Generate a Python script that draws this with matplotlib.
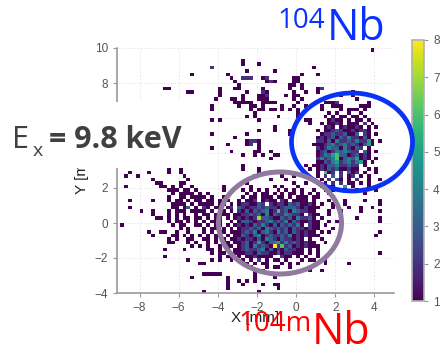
import numpy as np
import matplotlib
matplotlib.use('Agg')
import matplotlib.pyplot as plt
from matplotlib.patches import Rectangle, Ellipse

# 2D hit map, 0.2 mm bins, rows go from y=10 (top) down to y=-4, columns from x=-9 to x=5
X_START, Y_START, BIN = -9.0, 10.0, 0.2
count_rows = [
    ".......... .......... .......... .......... .......... .......... ....1.....",
    ".......... .......... .......... .......... .......... .......... ..........",
    ".......... .......... .......... .......... .......... .......... ..........",
    ".......... .......... .......... .1........ .......... .......... ..........",
    ".......... .......... .......... .1...1.... .......... .......... ..........",
    ".......... .......... ...2...... .......... .........1 .......... ..........",
    ".......... .......... .......... ..1......1 .......... .......... ..........",
    ".......... ........1. .......1.. .......... ......1... 1......... ..........",
    ".......... .......... ........1. .222..12.. ....11.... .......... ..........",
    ".......... .......... .........1 .......121 ....11.... .......... ..........",
    ".......... .......... .......... 1......... ...11.1... .......... ..........",
    ".......... .11....... .....1...1 1.....1... ...1..1... 12........ ..........",
    ".......... .......11. .....1.... ..1...21.. ....1..1.. 1........1 ..........",
    ".......... .......... .....1.... .1...112.. ..1.11.... ......1..1 ..........",
    ".......... .......... ....1...11 .1...111.. ....1.1... .......... 1.........",
    ".......... .......... .........1 1111..1111 .....1.... ..1112.... ...1......",
    ".......... .......... ...1...... 1..11.1... .1..1..1.. .1..111... .111......",
    ".......... .......... ...1...... ...1.11.11 .1.1.1.... .1....1.11 1.1.......",
    ".......... .......... .......... ....1..... .....1.... ...1.1..1. .1........",
    ".......... .......... .......... ..1.1..... 1....1.... ..1.1.11.1 1.1.......",
    ".......... .......... ...1.1.... .....1.... .......11. ...1211.1. 11.1......",
    ".......... .......... .......... .......... ........1. .1.1121.11 1.2.1.....",
    ".......... .......... .......... .........1 .......... ..121.1211 21.1.1....",
    ".......... .......... .......... .....1...1 ...1...... 1.11232112 1221......",
    ".......... .......... ...1...... ..1....... ...1...... .122322311 3.21.1....",
    ".......... .......... .........1 .......... .......... 1212313242 2131......",
    ".......... .......... .......... ..1221.... .......... 2213142232 42251.1...",
    ".......... .......... .......1.. ..12.1.... .........1 1123423423 21351.....",
    ".......... .......... ...1...... .....1.... .......... 2124331421 32.1......",
    ".......... .......... ........1. ....11..1. .......... 1231243432 2.31.1....",
    ".......... .......... .......... .1..1.1..1 1......... 1243563312 3121......",
    ".......... .......... .......... ........1. .......... 2423461343 5121.1....",
    ".......... .......... .......... .......... .......... 1132452342 451.1.....",
    ".......... .11......1 .......... .1........ .......1.1 1213342232 2.1.......",
    ".......... ..1..1.... .......... .1...1.... ........1. 1213231121 1..1.1....",
    "..1....1.. ..1..1.... .......... .....1.... .......... 1.612.2.31 2.1..1....",
    ".1..1..... ......1... .......... ....1..... .1..1..... 1.2.3.2.12 .1.1......",
    "........1. .......1.. .......... ........1. ..1......1 .1.2.31.1. 2..1..1...",
    ".........1 1....11... .......... ..1....... ....1..1.. 1.1.2.2.11 .1.1......",
    ".1........ 11.1.1..1. ......1... ...1.....1 .1...1.... .1.11..5.1 ...1.1....",
    ".......... ..111.11.1 ......1... .1.1.1.1.. 1.1.1.1..1 ..1.1..1.. 1....1....",
    ".......... ...1.1111. 1.1....... ..1.1.11.1 .1.11.1.1. 1..1...... ..1.......",
    ".......... ..1..11.11 11.1..1... .1.11.111. 11.1.111.1 1...1..... ..........",
    "..1.....1. ..1.11.1.1 1.11.1.1.. 1.112.1211 .21.1111.1 ...1...1.. ..1...1...",
    ".......... ...1111.1. 1111.11.1. 1221132.21 2213231121 .1..1..1.. ......1...",
    "..1....... ...11.13.1 .21.11.12. 3212232322 1233321211 1...1...1. .1..1.....",
    ".....1..1. ..1.111.11 11.1.11.1. 2131323412 6231432211 ...1..1... .1....1...",
    "........1. ..1.1.1..1 .11.1111.1 1223231413 2243221.21 1..1...... ..........",
    ".........1 1.1.1.11.1 1.1.11.1.1 2121273321 1323142231 .1....1... 1.....1...",
    ".......... ..1.11.1.1 .1.111..1. 1332122342 3241321121 1..1.1.... ......1...",
    "1......... ...1.11..1 1.1.11.1.1 2121324213 1323241.21 1.1...1... ..........",
    ".......... .....1.1.. .1.11.1.1. 1223231432 3231322121 1...1..... ..........",
    ".......1.. 11..1..1.. .1.1.11.11 1232413421 4231321211 .1.1...... ......1...",
    "........1. ...11.1.1. 1.1.11.1.1 1321341232 2324121211 1......... .....1....",
    ".......... ..1.1..11. .11.1.1.11 2122131432 1322121.1. .1........ ..........",
    ".......... ..11...1.1 ..1.1.11.1 1231252134 5242321211 ..1....... ..........",
    ".......... ........1. 1.1..1.11. 1231423218 2623121211 1......... ..........",
    ".......... .1....1... ..11.1.1.1 1232234131 2132211.1. 1......... ..........",
    ".......... .......... ...1.11..1 1122132211 3122111.1. 1......... ......1...",
    ".......... .1........ .....1.11. 1.1121111. .211.1.1.. 1......... ..........",
    ".......... .......1.. ...1.1..1. .1.1.2.1.1 1.1...1.11 ..1....... ..........",
    ".......... .......... 11........ ..1.1.11.. .1.1.1.... ..1.....1. ..........",
    ".......... .......... .......... ...1...1.1 1..1...... .......... ..........",
    ".......... .......... .......... ....1.1... ........1. .1........ ..........",
    ".......... .......... .11111.... ....1..... .......... .......... ..........",
    ".......... ........1. .......1.. ....1....1 .......... .......... ..........",
    ".......... .......... .......1.. 1.1.1..... .......... .......... ..........",
    ".......... .......... .......1.. .1....1..1 1......... .......... ..........",
    ".......... .......... .......1.. .......... 1......... .......... ..........",
    ".......... .......... .1........ .....1.... .......... .......... ..........",
]

x_ticks = [-8, -6, -4, -2, 0, 2, 4]
y_ticks = [-4, -2, 0, 2, 4, 6, 8, 10]
cbar_ticks = [1, 2, 3, 4, 5, 6, 7, 8]


def row_to_counts(row):
    groups = [g.ljust(10, '.')[:10] for g in row.split()]
    cells = ''.join(groups)
    return [0 if ch == '.' else int(ch) for ch in cells]


counts = np.array([row_to_counts(r) for r in count_rows], dtype=float)
n_rows, n_cols = counts.shape
x_edges = X_START + BIN * np.arange(n_cols + 1)
y_edges = Y_START - BIN * np.arange(n_rows + 1)
masked = np.ma.masked_equal(counts, 0)

W, H = 442, 354
fig = plt.figure(figsize=(W / 100, H / 100), dpi=100)


def fx(px):
    return px / W


def fy(py):
    return 1 - py / H


ax = fig.add_axes([fx(117), fy(293), fx(394) - fx(117), fy(48) - fy(293)])
mesh = ax.pcolormesh(x_edges, y_edges, masked, cmap='viridis', vmin=1, vmax=8,
                     shading='flat', linewidth=0)
ax.set_xlim(-9.15, 5.0)
ax.set_ylim(-4, 10)
ax.set_xticks(x_ticks)
ax.set_yticks(y_ticks)
ax.grid(True, color='#e4e4e4', linestyle=(0, (2, 2)), linewidth=0.6)
ax.set_axisbelow(True)
for s in ['top', 'right']:
    ax.spines[s].set_visible(False)
for s in ['left', 'bottom']:
    ax.spines[s].set_color('#9a9a9a')
    ax.spines[s].set_linewidth(1.2)
ax.tick_params(colors='#9a9a9a', labelcolor='#555555', labelsize=8.5, length=3,
               labelfontfamily='Liberation Sans')

fig.text(fx(255), fy(318), 'X [mm]', ha='center', va='center', fontsize=11,
         color='#222222', family='Liberation Sans')
fig.text(fx(82), fy(170), 'Y [mm]', ha='center', va='center', fontsize=11,
         rotation=90, color='#222222', family='Liberation Sans')

cax = fig.add_axes([fx(412), fy(301), fx(424) - fx(412), fy(40) - fy(301)])
cb = fig.colorbar(mesh, cax=cax, ticks=cbar_ticks)
cb.outline.set_edgecolor('#b0b0b0')
cb.outline.set_linewidth(1.2)
cax.tick_params(colors='#9a9a9a', labelcolor='#555555', labelsize=8.5, length=3,
                labelfontfamily='Liberation Sans')

# white label box covering the upper-left part of the axes
fig.add_artist(Rectangle((0, fy(168)), fx(207), fy(102) - fy(168),
                         transform=fig.transFigure, facecolor='white',
                         edgecolor='none', zorder=5))
tc = '#404040'
fig.text(fx(12), fy(148), 'E', fontsize=22, color=tc, family='Open Sans',
         va='baseline', zorder=6)
fig.text(fx(33), fy(156), 'x', fontsize=14, color=tc, family='Open Sans',
         va='baseline', zorder=6)
fig.text(fx(49), fy(148), '= 9.8 keV', fontsize=22, color=tc, family='Open Sans',
         weight='bold', va='baseline', zorder=6)

# ellipses marking the two states
fig.add_artist(Ellipse((fx(352), fy(142)), fx(121), 98 / H, transform=fig.transFigure,
                       fill=False, edgecolor='#0a32f5', linewidth=3.4, zorder=7))
fig.add_artist(Ellipse((fx(280), fy(223)), fx(123), 102 / H, transform=fig.transFigure,
                       fill=False, edgecolor='#907b9f', linewidth=3.6, zorder=7))

blue = '#0a32ff'
red = '#ff0000'
fig.text(fx(277), fy(28), '104', fontsize=20, color=blue, family='Open Sans',
         va='baseline', zorder=8)
fig.text(fx(327), fy(40), 'Nb', fontsize=31, color=blue, family='Open Sans',
         va='baseline', zorder=8)
fig.text(fx(238), fy(331), '104m', fontsize=20, color=red, family='Open Sans',
         va='baseline', zorder=8)
fig.text(fx(312), fy(344), 'Nb', fontsize=31, color=red, family='Open Sans',
         va='baseline', zorder=8)

fig.savefig('out.png', dpi=100)
